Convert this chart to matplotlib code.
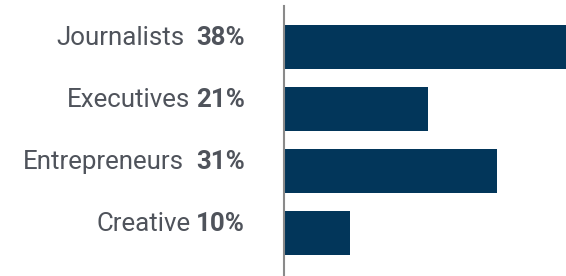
import matplotlib
matplotlib.use("Agg")
import matplotlib.pyplot as plt
from matplotlib.transforms import blended_transform_factory, IdentityTransform

categories = ["Journalists", "Executives", "Entrepreneurs", "Creative"]
percent_labels = ["38%", "21%", "31%", "10%"]
bar_values = [42, 21, 31, 9.6]   # bar lengths as drawn (top bar runs past the edge)
gaps = ["  ", " ", "  ", " "]

DPI = 100
fig = plt.figure(figsize=(5.66, 2.76), dpi=DPI)
W, H = 566, 276
ax = fig.add_axes([284 / W, 0, 1 - 284 / W, (H - 6) / H])

ys = list(range(len(categories)))
ax.barh(ys, bar_values, height=44 / 62, color="#02365a", zorder=2)
ax.set_xlim(0, 282 / 6.87)
ax.set_ylim(3.694, -0.661)
for s in ["top", "right", "bottom"]:
    ax.spines[s].set_visible(False)
ax.spines["left"].set_color("#8a8a8a")
ax.spines["left"].set_linewidth(1.5)
ax.set_xticks([])
ax.set_yticks([])

trans = blended_transform_factory(IdentityTransform(), ax.transData)
fig.canvas.draw()
renderer = fig.canvas.get_renderer()
fs = 18.6
col = "#4f535b"
for y, name, pct, g in zip(ys, categories, percent_labels, gaps):
    t = ax.text(245, y - 0.03, pct, transform=trans, ha="right", va="baseline",
                fontsize=fs, fontweight="bold", color=col, family="Roboto")
    bb = t.get_window_extent(renderer)
    gap_px = 6 * len(g)
    ax.text(bb.x0 - gap_px, y - 0.03, name, transform=trans, ha="right", va="baseline",
            fontsize=fs, color=col, family="Roboto")

fig.savefig("out.png", dpi=DPI)
